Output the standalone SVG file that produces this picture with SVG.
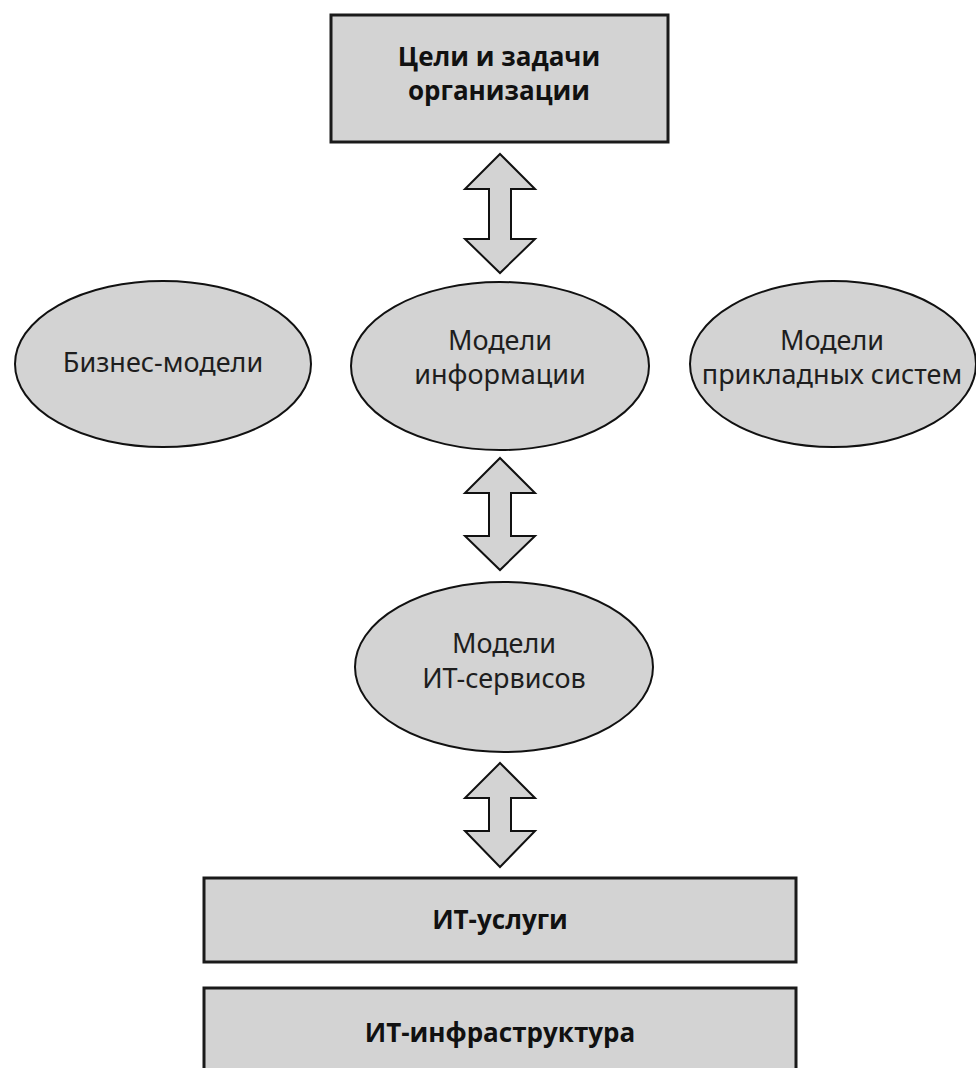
<svg xmlns="http://www.w3.org/2000/svg" width="976" height="1068" viewBox="0 0 976 1068">
<style>
.box{fill:#d3d3d3;stroke:#1a1a1a;stroke-width:3}
.ell{fill:#d3d3d3;stroke:#111;stroke-width:2}
.arr{fill:#d3d3d3;stroke:#111;stroke-width:2;stroke-linejoin:miter}
.t{font-family:"Noto Sans","Open Sans",sans-serif;font-size:27px;fill:#1e1e1e;text-anchor:middle}
.b{font-family:"Open Sans","Noto Sans",sans-serif;font-size:26px;font-weight:bold;fill:#111;text-anchor:middle}
</style>
<rect width="976" height="1068" fill="#fff"/>
<g id="goals">
<rect class="box" x="331" y="15" width="337" height="127"/>
<text class="b" x="499" y="66">Цели и задачи</text>
<text class="b" x="499" y="100">организации</text>
</g>
<g id="business">
<ellipse class="ell" cx="163" cy="364" rx="148" ry="83"/>
<text class="t" x="163" y="372">Бизнес-модели</text>
</g>
<g id="info">
<ellipse class="ell" cx="500" cy="366" rx="149" ry="84"/>
<text class="t" x="500" y="350">Модели</text>
<text class="t" x="500" y="384">информации</text>
</g>
<g id="apps">
<ellipse class="ell" cx="833" cy="364" rx="143" ry="83"/>
<text class="t" x="832" y="350">Модели</text>
<text class="t" x="832" y="384">прикладных систем</text>
</g>
<g id="itsvc">
<ellipse class="ell" cx="504" cy="667" rx="149" ry="85"/>
<text class="t" x="504" y="653">Модели</text>
<text class="t" x="504" y="688">ИТ-сервисов</text>
</g>
<g id="itservices">
<rect class="box" x="204" y="878" width="592" height="84"/>
<text class="b" x="500" y="929">ИТ-услуги</text>
</g>
<g id="itinfra">
<rect class="box" x="204" y="988" width="592" height="100"/>
<text class="b" x="500" y="1042">ИТ-инфраструктура</text>
</g>
<g id="connectors">
<path class="arr" d="M500,154 L535,189 L511,189 L511,239 L535,239 L500,273 L465,239 L489,239 L489,189 L465,189 Z"/>
<path class="arr" d="M500,458 L535,493 L511,493 L511,536 L535,536 L500,570 L465,536 L489,536 L489,493 L465,493 Z"/>
<path class="arr" d="M500,763 L535,798 L511,798 L511,831 L535,831 L500,867 L465,831 L489,831 L489,798 L465,798 Z"/>
</g>
</svg>
